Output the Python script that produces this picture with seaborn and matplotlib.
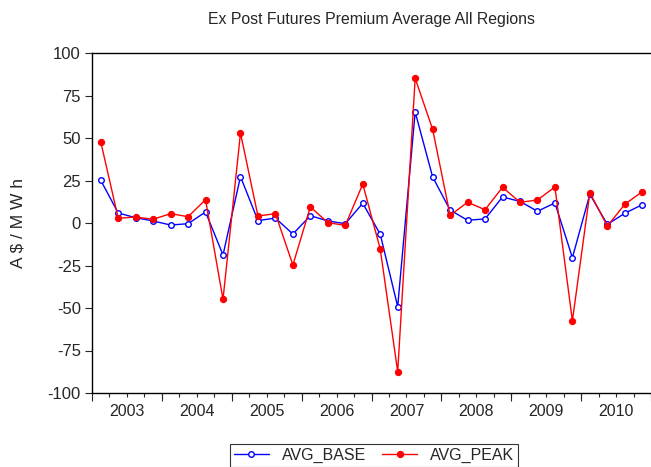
import pandas as pd
import matplotlib.pyplot as plt
import seaborn as sns
import numpy as np

# Quarterly values, 2003Q1 .. 2010Q4
years = list(range(2003, 2011))
avg_base = [25.1, 5.9, 3.1, 1.2, -1.2, -0.4, 6.5, -18.8,
            27.3, 1.4, 2.9, -6.5, 4.3, 1.2, -0.4, 11.6,
            -6.6, -49.2, 65.3, 27.1, 7.6, 1.6, 2.4, 15.3,
            12.7, 6.9, 11.8, -20.4, 16.9, -0.8, 5.7, 10.8]
avg_peak = [47.8, 2.8, 3.5, 2.2, 5.5, 3.7, 13.7, -44.9,
            52.9, 4.1, 5.5, -24.7, 9.5, 0.2, -1.4, 22.9,
            -15.3, -87.5, 85.1, 55.1, 4.5, 12.2, 7.8, 21.0,
            12.2, 13.5, 21.2, -57.6, 17.8, -1.8, 11.0, 18.4]
y_ticks = [100, 75, 50, 25, 0, -25, -50, -75, -100]

# points sit in the middle of each quarter slot
df = pd.DataFrame({
    'q': np.arange(len(avg_base)) + 0.5,
    'AVG_BASE': avg_base,
    'AVG_PEAK': avg_peak,
})

sns.set_style('ticks')
plt.rcParams['font.family'] = ['Liberation Sans', 'DejaVu Sans']

fig = plt.figure(figsize=(6.51, 4.67), dpi=100)
ax = fig.add_axes([92 / 651, 74 / 467, 1 - 92 / 651, 340 / 467])

sns.lineplot(data=df, x='q', y='AVG_BASE', ax=ax, color='#0000ff', lw=1.0,
             marker='o', markersize=4, markerfacecolor='white',
             markeredgecolor='#0000ff', markeredgewidth=1.0, label='AVG_BASE')
sns.lineplot(data=df, x='q', y='AVG_PEAK', ax=ax, color='#ff0000', lw=1.0,
             marker='o', markersize=4.5, markerfacecolor='#ff0000',
             markeredgecolor='#ff0000', label='AVG_PEAK')

ax.set_xlim(0, 559 / 17.6)
ax.set_ylim(-100, 100)
ax.set_yticks(y_ticks)
ax.set_yticklabels([str(v) for v in y_ticks], fontsize=12)

# year labels at year centres, short ticks at quarters, long ticks at year edges
ax.set_xticks([4 * i + 2 for i in range(len(years))])
ax.set_xticklabels([str(y) for y in years], fontsize=11.5)
ax.set_xticks([q for q in range(1, 33) if q % 4 != 2], minor=True)
ax.tick_params(axis='x', which='both', length=3, width=0.8, direction='out')
ax.tick_params(axis='x', which='major', pad=5)
ax.tick_params(axis='y', length=5, width=0.8, direction='out', pad=3)

sec = ax.secondary_xaxis('bottom')
sec.set_xticks([4 * i for i in range(len(years) + 1)])
sec.set_xticklabels([])
sec.tick_params(length=6, width=0.8)
sec.spines['bottom'].set_visible(False)

for side in ['left', 'top', 'bottom']:
    ax.spines[side].set_color('black')
    ax.spines[side].set_linewidth(1.0)
ax.spines['right'].set_visible(False)

ax.set_xlabel('')
ax.set_ylabel('A $ / M W h', fontsize=12.5, labelpad=16)
ax.set_title('Ex Post Futures Premium Average All Regions', fontsize=11.4, pad=21)

ax.get_legend().remove()
handles, labels = ax.get_legend_handles_labels()
leg = fig.legend(handles, labels, loc='upper center', ncol=2,
                 bbox_to_anchor=(374 / 651, 23 / 467), borderaxespad=0,
                 fontsize=11.5, frameon=True, fancybox=False,
                 edgecolor='black', handlelength=2.2, columnspacing=1.0,
                 borderpad=0.25)
leg.get_frame().set_linewidth(0.8)

fig.savefig('out.png', dpi=100)
